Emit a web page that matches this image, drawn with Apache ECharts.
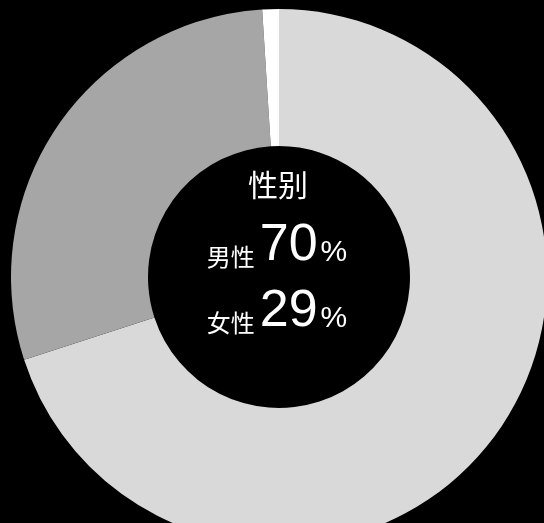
<!DOCTYPE html>
<html>
<head>
<meta charset="utf-8">
<style>
html,body{margin:0;padding:0;background:#000;}
#chart{width:544px;height:523px;}
</style>
<script src="https://cdn.jsdelivr.net/npm/echarts@6/dist/echarts.min.js"></script>
</head>
<body>
<div id="chart"></div>
<script>
var title = '性别';
var categories = ['男性', '女性', '其他'];
var values = [70, 29, 1];
var colors = ['#d9d9d9', '#a6a6a6', '#ffffff'];

var chart = echarts.init(document.getElementById('chart'));
var cjk = '"Noto Sans CJK SC", sans-serif';
var latin = '"Liberation Sans", Arial, sans-serif';

function lineText(i) {
  return '{name|' + categories[i] + '}{num|' + values[i] + '}{pct|%}';
}
var rich = {
  name: {fontFamily: cjk, fontSize: 24, lineHeight: 24, fill: '#fff', verticalAlign: 'bottom', padding: [0, 5, 3, 0]},
  num: {fontFamily: latin, fontSize: 52, lineHeight: 52, fill: '#fff', verticalAlign: 'bottom'},
  pct: {fontFamily: latin, fontSize: 30, lineHeight: 30, fill: '#fff', verticalAlign: 'bottom', padding: [0, 0, 4, 3]}
};

chart.setOption({
  backgroundColor: '#000',
  animation: false,
  series: [{
    type: 'pie',
    center: [279, 277],
    radius: [131, 268],
    startAngle: 90,
    clockwise: true,
    label: {show: false},
    labelLine: {show: false},
    silent: true,
    data: categories.map(function (c, i) {
      return {name: c, value: values[i], itemStyle: {color: colors[i]}};
    })
  }],
  graphic: [
    {type: 'text', x: 278, y: 170, style: {text: title, fontFamily: cjk, fontSize: 30, fill: '#fff', align: 'center', verticalAlign: 'top'}},
    {type: 'text', x: 277, y: 220, style: {text: lineText(0), rich: rich, align: 'center', verticalAlign: 'top'}},
    {type: 'text', x: 277, y: 286, style: {text: lineText(1), rich: rich, align: 'center', verticalAlign: 'top'}}
  ]
});
</script>
</body>
</html>
